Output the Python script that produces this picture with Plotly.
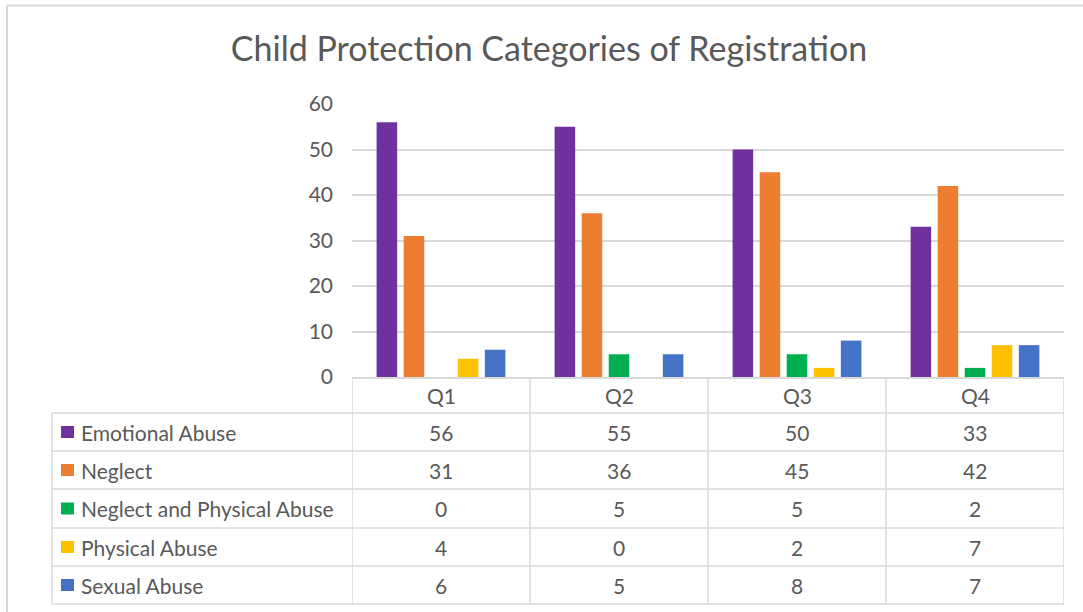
import plotly.graph_objects as go

quarters = ["Q1", "Q2", "Q3", "Q4"]
series_names = ["Emotional Abuse", "Neglect", "Neglect and Physical Abuse",
                "Physical Abuse", "Sexual Abuse"]
emotional_abuse = [56, 55, 50, 33]
neglect = [31, 36, 45, 42]
neglect_and_physical = [0, 5, 5, 2]
physical_abuse = [4, 0, 2, 7]
sexual_abuse = [6, 5, 8, 7]
series_values = [emotional_abuse, neglect, neglect_and_physical, physical_abuse, sexual_abuse]
colors = ["#7030A0", "#ED7D31", "#00B050", "#FFC000", "#4472C4"]
y_ticks = [0, 10, 20, 30, 40, 50, 60]

W, H = 1083, 612
FONT = "Lato"
TXT = "#595959"
GRID = "#D9D9D9"
FS = 21


def px(x):
    return x / W


def py(y):
    return 1 - y / H


plot_left, plot_right = 352, 1064
plot_top, plot_bottom = 104, 377
table_left = 52
row_edges = [413, 451, 489, 528, 566, 604]

fig = go.Figure()
for name, vals, col in zip(series_names, series_values, colors):
    fig.add_trace(go.Bar(x=quarters, y=vals, name=name, marker_color=col,
                         marker_line_width=0, showlegend=False))

shapes = []
annotations = []
line = dict(color=GRID, width=1.5)

# chart border (top and left)
shapes.append(dict(type="line", xref="paper", yref="paper", x0=px(7), x1=1.0,
                   y0=py(5.5), y1=py(5.5), line=dict(color=GRID, width=2)))
shapes.append(dict(type="line", xref="paper", yref="paper", x0=px(7), x1=px(7),
                   y0=py(5), y1=0, line=dict(color=GRID, width=2)))

# header row verticals (category boundaries)
n = len(quarters)
for i in range(n + 1):
    shapes.append(dict(type="line", xref="x", yref="paper", x0=i - 0.5, x1=i - 0.5,
                       y0=py(plot_bottom), y1=py(row_edges[-1]), line=line))
# table left edge
shapes.append(dict(type="line", xref="paper", yref="paper", x0=px(table_left), x1=px(table_left),
                   y0=py(row_edges[0]), y1=py(row_edges[-1]), line=line))
# horizontal row lines
for ry in row_edges:
    shapes.append(dict(type="line", xref="paper", yref="paper",
                       x0=px(table_left), x1=px(plot_right), y0=py(ry), y1=py(ry), line=line))

# table rows
for r, (name, vals, col) in enumerate(zip(series_names, series_values, colors)):
    yc = (row_edges[r] + row_edges[r + 1]) / 2
    shapes.append(dict(type="rect", xref="paper", yref="paper", x0=px(61), x1=px(74),
                       y0=py(yc + 6), y1=py(yc - 6), fillcolor=col, line=dict(width=0)))
    annotations.append(dict(text=name, xref="paper", yref="paper", x=px(79), y=py(yc),
                            xanchor="left", yanchor="middle", showarrow=False,
                            font=dict(family=FONT, size=FS, color=TXT)))
    for i, v in enumerate(vals):
        annotations.append(dict(text=str(v), xref="x", yref="paper", x=quarters[i], y=py(yc),
                                xanchor="center", yanchor="middle", showarrow=False,
                                font=dict(family=FONT, size=FS, color=TXT)))

# header quarter labels
for q in quarters:
    annotations.append(dict(text=q, xref="x", yref="paper", x=q, y=py((plot_bottom + row_edges[0]) / 2),
                            xanchor="center", yanchor="middle", showarrow=False,
                            font=dict(family=FONT, size=FS, color=TXT)))

fig.update_layout(
    width=W, height=H,
    margin=dict(l=0, r=0, t=0, b=0, pad=0, autoexpand=False),
    paper_bgcolor="white", plot_bgcolor="white",
    title=dict(text="Child Protection Categories of Registration", x=549 / W, xanchor="center",
               y=py(49), yanchor="middle", automargin=False,
               font=dict(family=FONT, size=34, color=TXT)),
    bargap=0.24, bargroupgap=0.24,
    barmode="group",
    showlegend=False,
    shapes=shapes, annotations=annotations,
    xaxis=dict(domain=[px(plot_left), px(plot_right)], range=[-0.5, n - 0.5], automargin=False,
               showticklabels=False, showgrid=False, showline=True, linecolor=GRID, linewidth=1.5,
               zeroline=False, fixedrange=True),
    yaxis=dict(domain=[py(plot_bottom), py(plot_top)], range=[0, 60], tickvals=y_ticks,
               automargin=False,
               showgrid=True, gridcolor=GRID, gridwidth=1.5, zeroline=False, showline=False,
               ticks="", ticklabelstandoff=18,
               tickfont=dict(family=FONT, size=FS, color=TXT)),
)

fig.write_html("out.html", config={"displayModeBar": False},
               post_script="document.documentElement.style.margin='0';"
                           "document.body.style.margin='0';document.body.style.padding='0';"
                           "document.body.style.overflow='hidden';")
